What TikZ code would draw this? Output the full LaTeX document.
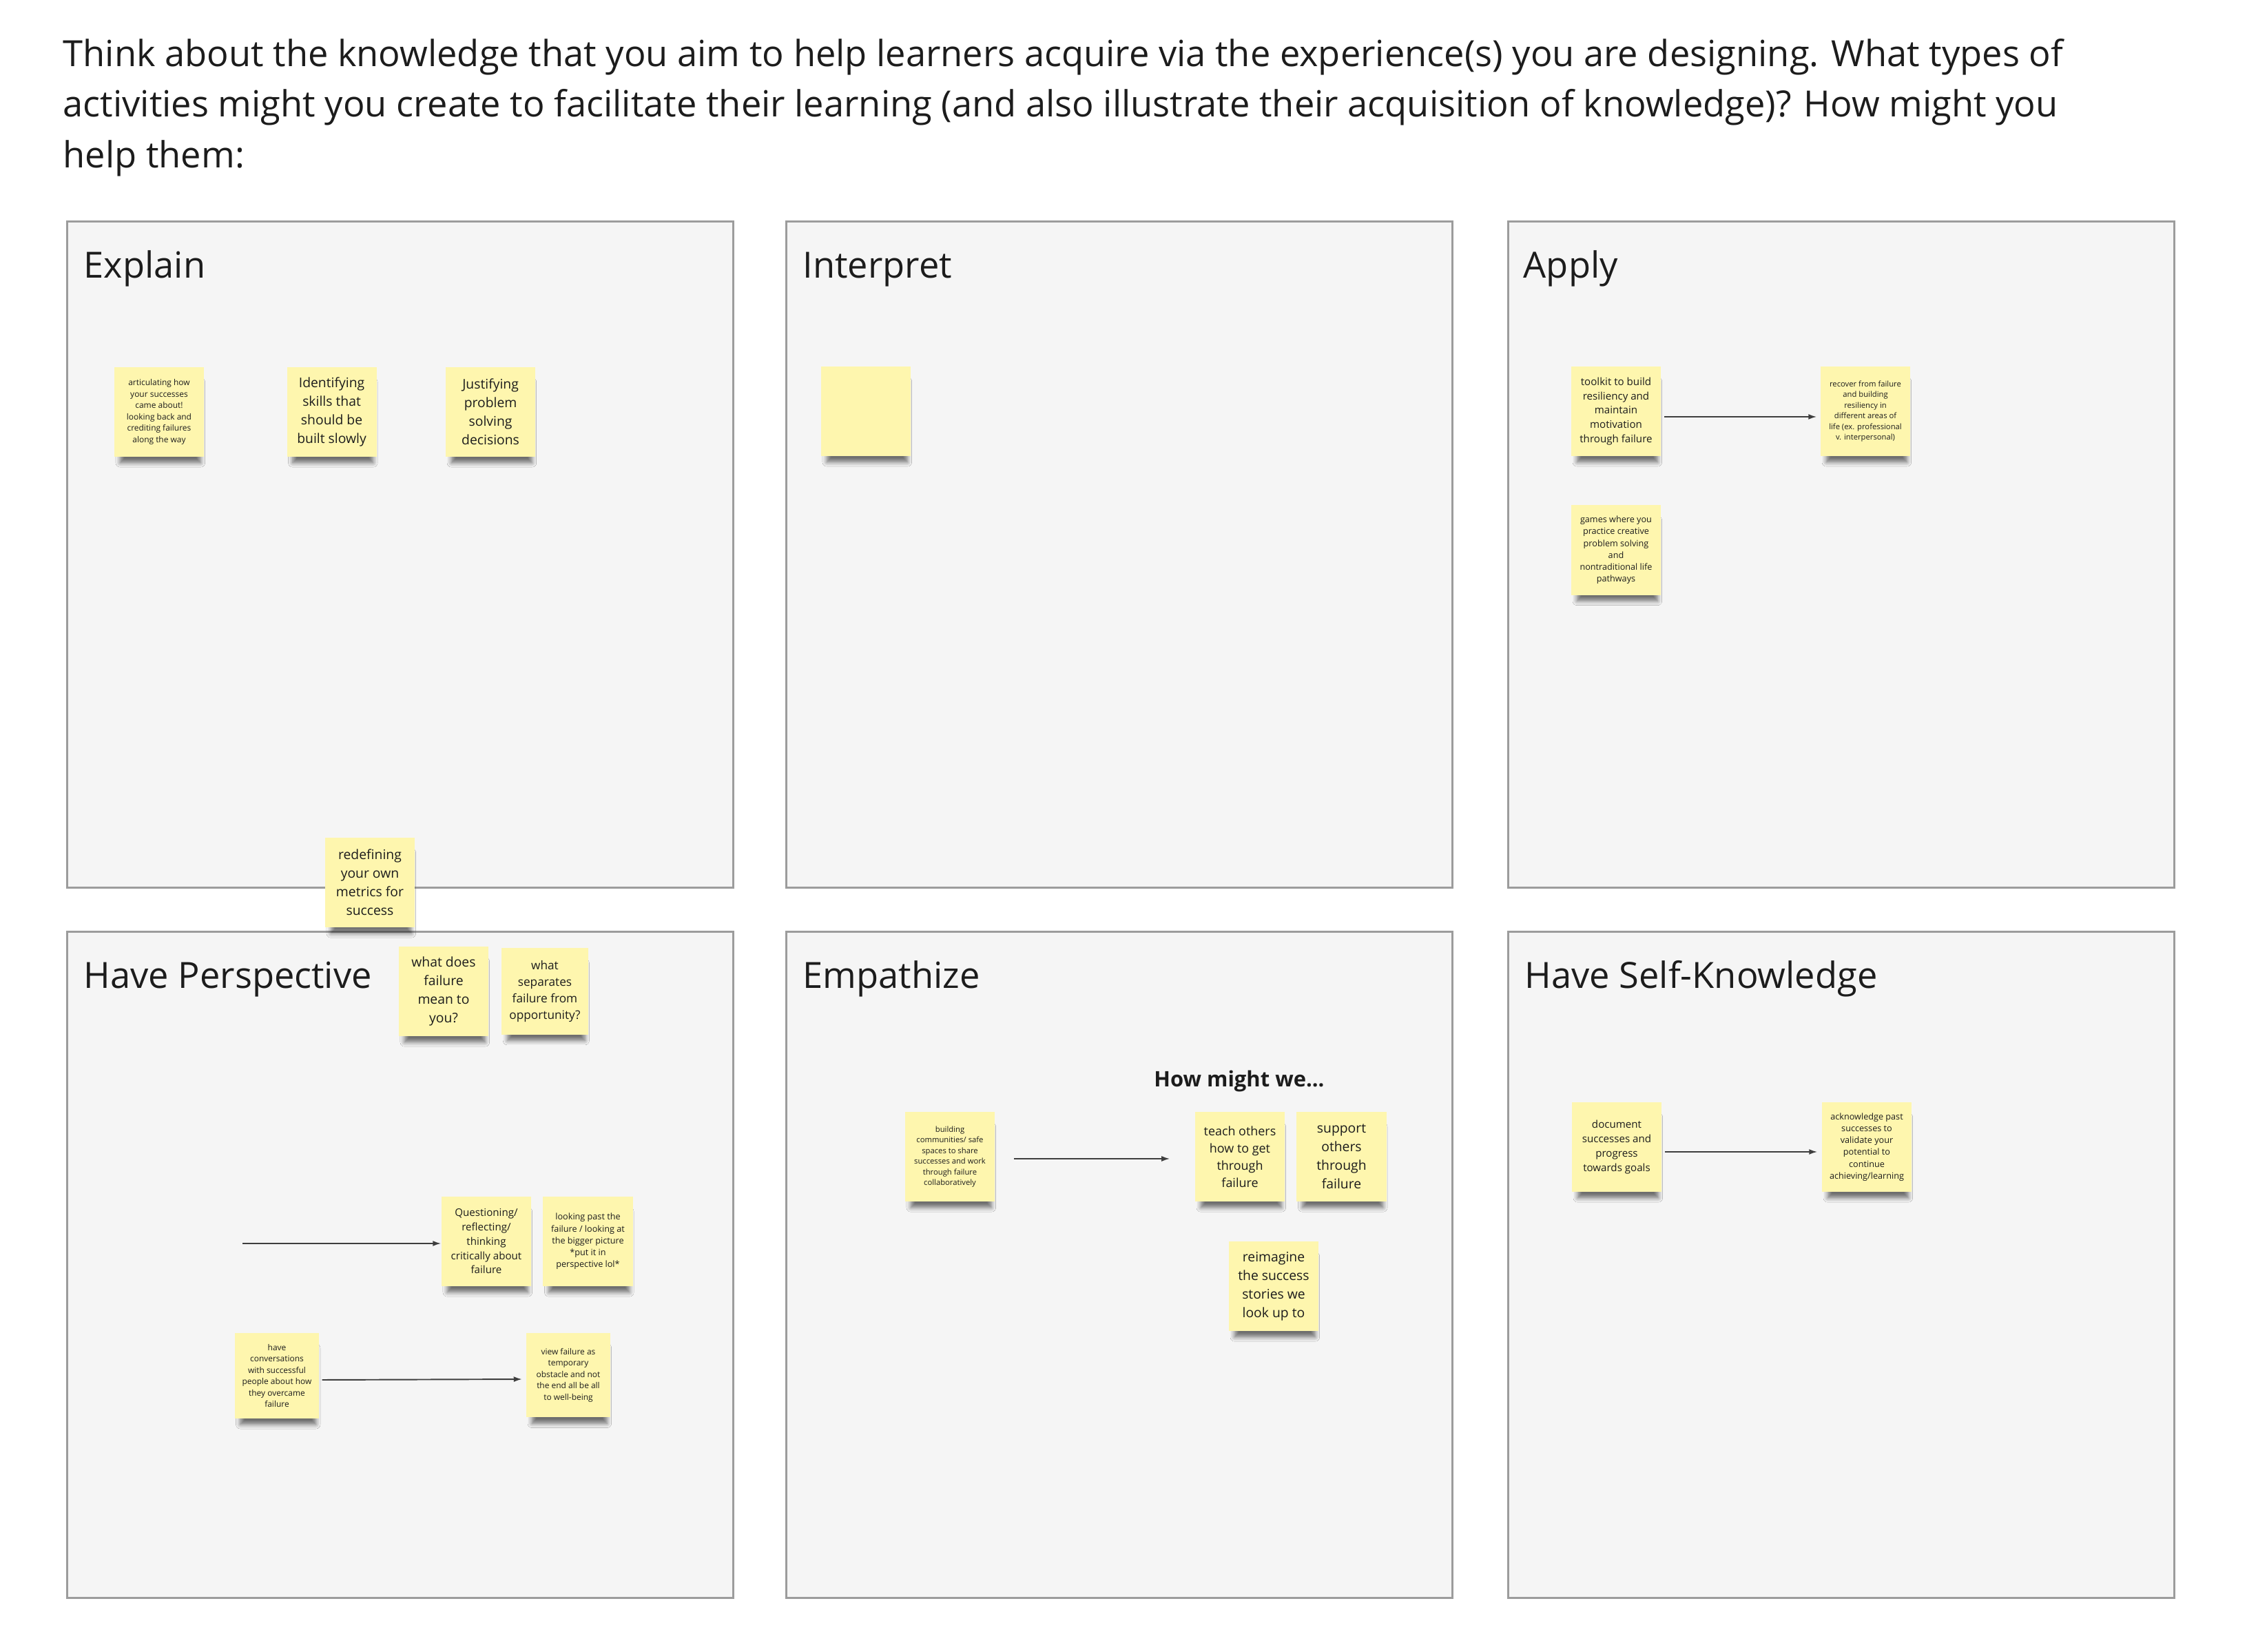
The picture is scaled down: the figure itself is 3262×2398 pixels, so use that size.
\documentclass[tikz,border=0pt]{standalone}
\usepackage{fontspec}
\setmainfont{Open Sans}
\usepackage{tikz}
\usetikzlibrary{calc,positioning,arrows.meta,shadows.blur}

\definecolor{stickyyellow}{HTML}{FEF6AE}
\definecolor{panelgray}{HTML}{F5F5F5}
\definecolor{panelline}{HTML}{9C9C9C}
\definecolor{ink}{HTML}{1C1C1C}

\tikzset{
    panel/.style={draw=panelline, line width=0.9pt, fill=panelgray, anchor=north west,
        minimum width=9.66cm, minimum height=9.66cm, inner sep=0pt},
    heading/.style={anchor=base west, inner sep=0pt, text=ink, font=\fontsize{14.9}{17.5}\selectfont},
    sticky/.style={fill=stickyyellow, align=center, text=ink, inner sep=0pt,
        minimum width=1.3cm, minimum height=1.3cm,
        blur shadow={shadow xshift=0.02cm, shadow yshift=-0.17cm, shadow scale=0.9,
            shadow opacity=55, shadow blur radius=0.07cm, shadow blur steps=6}},
    bigtext/.style={font=\fontsize{5.5}{7.7}\selectfont},
    largetext/.style={font=\fontsize{5.1}{7.1}\selectfont},
    medtext/.style={font=\fontsize{4.9}{6.8}\selectfont},
    midtext/.style={font=\fontsize{4.3}{5.9}\selectfont},
    smalltext/.style={font=\fontsize{3.6}{4.9}\selectfont},
    tinytext/.style={font=\fontsize{3.4}{4.7}\selectfont},
    tiniertext/.style={font=\fontsize{3.2}{4.4}\selectfont},
    flow/.style={-{Latex[length=1.2mm, width=0.8mm]}, line width=0.55pt, ink!85},
}

\begin{document}
\begin{tikzpicture}[x=0.01cm, y=-0.01cm]
    \fill[white] (0,0) rectangle (3262,2398);
    \useasboundingbox (0,0) rectangle (3262,2398);

    \node [anchor=north west, align=left, inner sep=0pt, text=ink, font=\fontsize{14.9}{20.8}\selectfont] (prompt) at (91,56)
        {Think about the knowledge that you aim to help learners acquire via the experience(s) you are designing. What types of\\
         activities might you create to facilitate their learning (and also illustrate their acquisition of knowledge)? How might you\\
         help them:};

    % the six boards
    \node [panel] (explain) at (96,320) {};
    \node [panel] (interpret) at (1140,320) {};
    \node [panel] (apply) at (2188,320) {};
    \node [panel] (perspective) at (96,1351) {};
    \node [panel] (empathize) at (1140,1351) {};
    \node [panel] (selfknow) at (2188,1351) {};

    \node [heading] (explainT) at ([shift={(25,84)}]explain.north west) {Explain};
    \node [heading] (interpretT) at ([shift={(25,84)}]interpret.north west) {Interpret};
    \node [heading] (applyT) at ([shift={(23,84)}]apply.north west) {Apply};
    \node [heading] (perspectiveT) at ([shift={(25,84)}]perspective.north west) {Have Perspective};
    \node [heading] (empathizeT) at ([shift={(25,84)}]empathize.north west) {Empathize};
    \node [heading] (selfknowT) at ([shift={(25,84)}]selfknow.north west) {Have Self-Knowledge};

    % Explain
    \node [sticky, tinytext] (articulate) at (231,598) {articulating how\\your successes\\came about!\\looking back and\\crediting failures\\along the way};
    \node [sticky, bigtext, right=1.19cm of articulate] (identify) {Identifying\\skills that\\should be\\built slowly};
    \node [sticky, bigtext, right=0.99cm of identify] (justify) {Justifying\\problem\\solving\\decisions};

    % Interpret
    \node [sticky] (blank) at (1257,597) {};

    % Apply
    \node [sticky, midtext] (toolkit) at (2346,597) {toolkit to build\\resiliency and\\maintain\\motivation\\through failure};
    \node [sticky, tiniertext] (recover) at (2708,597) {recover from failure\\and building\\resiliency in\\different areas of\\life (ex. professional\\v. interpersonal)};
    \node [sticky, smalltext, below=0.7cm of toolkit] (games) {games where you\\practice creative\\problem solving\\and\\nontraditional life\\pathways};
    \draw [flow, shorten <=0.04cm, shorten >=0.05cm] ([yshift=-0.08cm]toolkit.east) -- ([yshift=-0.08cm]recover.west);

    % Have Perspective
    \node [sticky, bigtext] (redefine) at (537,1281) {redefining\\your own\\metrics for\\success};
    \node [sticky, bigtext] (meaning) at (644,1439) {what does\\failure\\mean to\\you?};
    \node [sticky, medtext, right=0.18cm of meaning, minimum width=1.25cm, minimum height=1.25cm] (separates) {what\\separates\\failure from\\opportunity?};
    \node [sticky, midtext] (question) at (706,1802) {Questioning/\\reflecting/\\thinking\\critically about\\failure};
    \node [sticky, smalltext, right=0.16cm of question] (bigpicture) {looking past the\\failure / looking at\\the bigger picture\\*put it in\\perspective lol*};
    \node [sticky, tinytext, minimum width=1.22cm, minimum height=1.23cm] (conversations) at (402,1997) {have\\conversations\\with successful\\people about how\\they overcame\\failure};
    \node [sticky, tinytext, minimum width=1.21cm, minimum height=1.22cm] (temporary) at (825,1996) {view failure as\\temporary\\obstacle and not\\the end all be all\\to well-being};
    \coordinate (loose) at (352,1805);
    \draw [flow] (loose) -- ([yshift=-0.03cm]question.west);
    \draw [flow, shorten <=0.04cm, shorten >=0.06cm] ([yshift=-0.06cm]conversations.east) -- ([yshift=-0.06cm]temporary.west);

    % Empathize
    \node [font=\bfseries\fontsize{8.8}{10}\selectfont, text=ink, anchor=base, inner sep=0pt] (howmight) at (1799,1577) {How might we...};
    \node [sticky, tiniertext] (community) at (1379,1679) {building\\communities/ safe\\spaces to share\\successes and work\\through failure\\collaboratively};
    \node [sticky, largetext] (teach) at (1800,1679) {teach others\\how to get\\through\\failure};
    \node [sticky, bigtext, right=0.16cm of teach] (support) {support\\others\\through\\failure};
    \node [sticky, bigtext] (reimagine) at (1849,1867) {reimagine\\the success\\stories we\\look up to};
    \draw [flow, shorten <=0.27cm, shorten >=0.36cm] ([yshift=-0.03cm]community.east) -- ([yshift=-0.03cm]teach.west);

    % Have Self-Knowledge
    \node [sticky, midtext] (document) at (2347,1665) {document\\successes and\\progress\\towards goals};
    \node [sticky, smalltext] (acknowledge) at (2710,1665) {acknowledge past\\successes to\\validate your\\potential to\\continue\\achieving/learning};
    \draw [flow, shorten <=0.04cm, shorten >=0.06cm] ([yshift=-0.07cm]document.east) -- ([yshift=-0.07cm]acknowledge.west);

\end{tikzpicture}
\end{document}
